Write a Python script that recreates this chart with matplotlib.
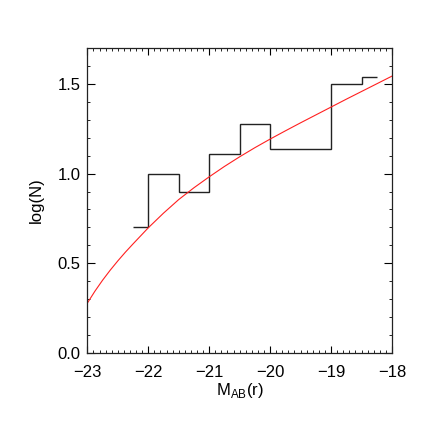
import matplotlib
matplotlib.use("Agg")
import matplotlib.pyplot as plt
from matplotlib.ticker import MultipleLocator

plt.rcParams['font.family'] = ['Liberation Sans', 'DejaVu Sans']
plt.rcParams['mathtext.fontset'] = 'custom'
plt.rcParams['mathtext.rm'] = 'Liberation Sans'
plt.rcParams['axes.unicode_minus'] = True

# Histogram (step) data
bin_edges = [-22.25, -22.0, -21.5, -21.0, -20.5, -20.0, -19.5, -19.0, -18.5, -18.25]
log_n = [0.70, 1.00, 0.90, 1.11, 1.28, 1.14, 1.14, 1.50, 1.54]

# Fitted curve
curve_mag = [-23.0, -22.875, -22.75, -22.625, -22.5, -22.375, -22.25, -22.125, -22.0, -21.75,
             -21.5, -21.25, -21.0, -20.75, -20.5, -20.25, -20.0, -19.75, -19.5, -19.25,
             -19.0, -18.75, -18.5, -18.25, -18.0]
curve_logn = [0.276, 0.343, 0.404, 0.460, 0.512, 0.561, 0.607, 0.652, 0.697, 0.779,
              0.855, 0.921, 0.982, 1.040, 1.094, 1.145, 1.193, 1.239, 1.284, 1.328,
              1.372, 1.416, 1.459, 1.502, 1.545]

x_ticks = [-23, -22, -21, -20, -19, -18]
y_ticks = [0.0, 0.5, 1.0, 1.5]

fig = plt.figure(figsize=(4.36, 4.36), dpi=100)
ax = fig.add_axes([0.2003, 0.1915, 0.6987, 0.6975])

ax.stairs(log_n, bin_edges, color='#222222', linewidth=1.0, baseline=None)
ax.plot(curve_mag, curve_logn, color='#ff2020', linewidth=0.8)

ax.set_xlim(-23, -18)
ax.set_ylim(0.0, 1.7)
ax.set_xticks(x_ticks)
ax.set_yticks(y_ticks)
ax.set_xticklabels([f"\u2212{abs(v)}" for v in x_ticks])
ax.set_yticklabels([f"{v:.1f}" for v in y_ticks])
ax.xaxis.set_minor_locator(MultipleLocator(0.1))
ax.yaxis.set_minor_locator(MultipleLocator(0.1))

ax.tick_params(which='both', direction='in', top=True, right=True, labelsize=12, colors='black')
ax.tick_params(axis='x', which='major', length=5, width=0.8, pad=9)
ax.tick_params(axis='y', which='major', length=5.5, width=0.8, pad=5)
ax.tick_params(which='minor', length=2.2, width=0.6)
for s in ax.spines.values():
    s.set_linewidth(0.9)
    s.set_color('#222222')

ax.set_xlabel(r"M$_{\rm AB}$(r)", fontsize=12, labelpad=1)
ax.set_ylabel("log(N)", fontsize=12, labelpad=10)

fig.savefig("out.png", dpi=100)
